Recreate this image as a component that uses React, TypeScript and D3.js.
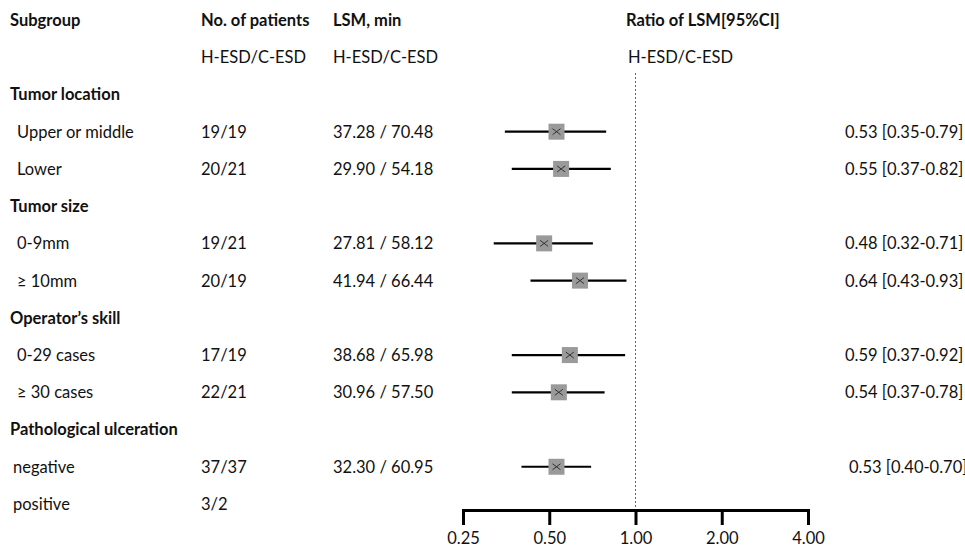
import React, { useEffect, useRef } from 'react';
import * as d3 from 'd3';

// rows of the forest plot, top to bottom (after the two header lines)
const groupNames = ['Tumor location', 'Tumor size', 'Operator\u2019s skill', 'Pathological ulceration'];
const subgroupNames = [
  ['Upper or middle', 'Lower'],
  ['0-9mm', '\u2265 10mm'],
  ['0-29 cases', '\u2265 30 cases'],
  ['negative', 'positive'],
];
const patients = [['19/19', '20/21'], ['19/21', '20/19'], ['17/19', '22/21'], ['37/37', '3/2']];
const lsm = [
  ['37.28 / 70.48', '29.90 / 54.18'],
  ['27.81 / 58.12', '41.94 / 66.44'],
  ['38.68 / 65.98', '30.96 / 57.50'],
  ['32.30 / 60.95', ''],
];
const ratio = [[0.53, 0.55], [0.48, 0.64], [0.59, 0.54], [0.53, null]];
const ciLow = [[0.35, 0.37], [0.32, 0.43], [0.37, 0.37], [0.40, null]];
const ciHigh = [[0.79, 0.82], [0.71, 0.93], [0.92, 0.78], [0.70, null]];
const axisTicks = [0.25, 0.5, 1, 2, 4];

const width = 965;
const height = 548;
const font = 'Lato, "Noto Sans", sans-serif';
const fontSize = 16.5;
const ink = '#111';

type Row = { kind: 'group' | 'item'; label: string; g?: number; i?: number };

const rows: Row[] = [];
groupNames.forEach((name, g) => {
  rows.push({ kind: 'group', label: name });
  subgroupNames[g].forEach((label, i) => rows.push({ kind: 'item', label, g, i }));
});

const App = () => {
  const chartRef = useRef<SVGSVGElement>(null);

  useEffect(() => {
    const svg = d3.select(chartRef.current);
    svg.selectAll('*').remove();

    const yScale = d3.scalePoint<number>()
      .domain(d3.range(rows.length + 2))
      .range([20, 504]);

    const xScale = d3.scaleLog()
      .base(2)
      .domain([0.25, 4])
      .range([463, 808]);

    const text = (x: number, y: number, s: string, bold = false) =>
      svg.append('text')
        .attr('x', x)
        .attr('y', y)
        .attr('dy', '0.36em')
        .attr('font-family', font)
        .attr('font-size', fontSize)
        .attr('font-weight', bold ? 700 : 400)
        .attr('fill', ink)
        .text(s);

    // headers
    text(10, yScale(0)!, 'Subgroup', true);
    text(201, yScale(0)!, 'No. of patients', true);
    text(333, yScale(0)!, 'LSM, min', true);
    text(626, yScale(0)!, 'Ratio of LSM[95%CI]', true);
    text(201, yScale(1)!, 'H-ESD/C-ESD');
    text(333, yScale(1)!, 'H-ESD/C-ESD');
    text(628, yScale(1)!, 'H-ESD/C-ESD');

    // reference line at ratio 1
    svg.append('line')
      .attr('x1', xScale(1)).attr('x2', xScale(1))
      .attr('y1', 73).attr('y2', 510)
      .attr('stroke', '#666')
      .attr('stroke-width', 1)
      .attr('stroke-dasharray', '2,2');

    rows.forEach((row, index) => {
      const y = yScale(index + 2)!;
      if (row.kind === 'group') {
        text(10, y, row.label, true);
        return;
      }
      const g = row.g!;
      const i = row.i!;
      text(g === 3 ? 13 : 17, y, row.label);
      text(201, y, patients[g][i]);
      if (lsm[g][i]) text(333, y, lsm[g][i]);

      const est = ratio[g][i];
      if (est == null) return;
      const lo = ciLow[g][i]!;
      const hi = ciHigh[g][i]!;

      svg.append('line')
        .attr('x1', xScale(lo)).attr('x2', xScale(hi))
        .attr('y1', y).attr('y2', y)
        .attr('stroke', '#000')
        .attr('stroke-width', 2.2);

      svg.append('rect')
        .attr('x', xScale(est) - 8)
        .attr('y', y - 8)
        .attr('width', 16)
        .attr('height', 16)
        .attr('fill', '#9a9a9a');

      svg.append('path')
        .attr('d', `M${xScale(est) - 4},${y - 3}L${xScale(est) + 4},${y + 3}M${xScale(est) - 4},${y + 3}L${xScale(est) + 4},${y - 3}`)
        .attr('stroke', '#333')
        .attr('stroke-width', 1);

      const fmt = d3.format('.2f');
      text(g === 3 ? 849 : 845, y, `${fmt(est)} [${fmt(lo)}-${fmt(hi)}]`);
    });

    // x axis
    const xAxis = d3.axisBottom(xScale)
      .tickValues(axisTicks)
      .tickFormat(d3.format('.2f'))
      .tickSize(15)
      .tickSizeOuter(15)
      .tickPadding(7);

    svg.append('g')
      .attr('transform', 'translate(0, 510)')
      .call(xAxis)
      .call(g => g.selectAll('path, line').attr('stroke', '#000').attr('stroke-width', 3))
      .call(g => g.selectAll('text')
        .attr('font-family', font)
        .attr('font-size', fontSize)
        .attr('fill', ink));
  });

  return (
    <svg
      ref={chartRef}
      width={width}
      height={height}
      viewBox={`0 0 ${width} ${height}`}
      style={{ position: 'absolute', left: 0, top: 0, background: '#fff' }}
    />
  );
};

export default App;
